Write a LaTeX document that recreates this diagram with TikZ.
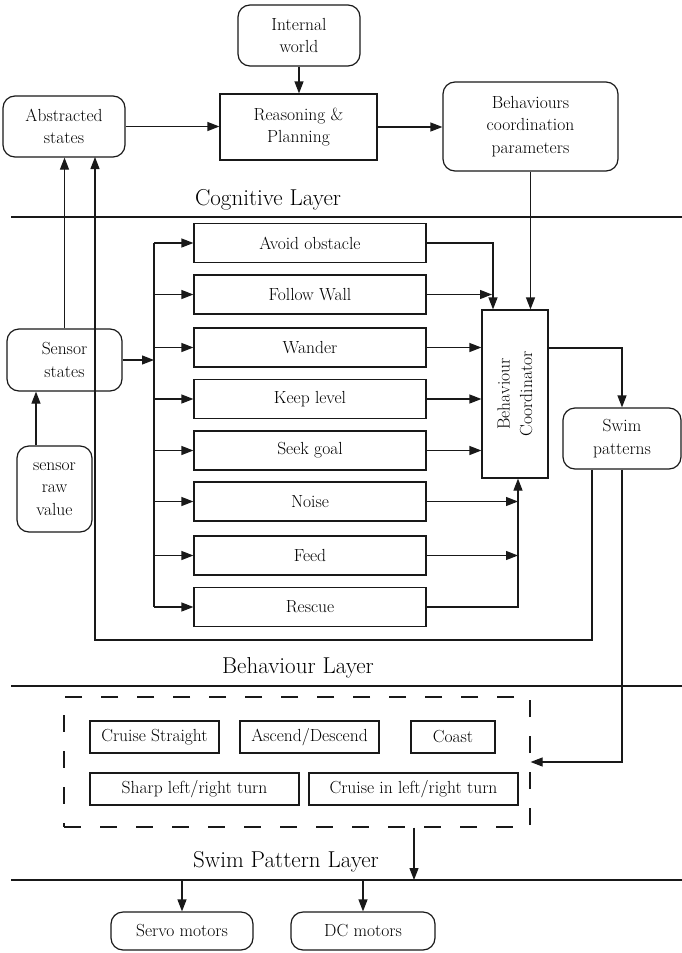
\documentclass[tikz,border=0pt]{standalone}
\usetikzlibrary{arrows.meta,calc}
\begin{document}
\begin{tikzpicture}[x=1pt,y=-1pt,
  line width=1.2pt, draw=black!90,
  every node/.style={text=black},
  arr/.style={-{Triangle[length=12pt,width=9pt]}},
  box/.style={draw, inner sep=0pt, align=center, font=\fontsize{17.5}{22.5}\selectfont},
  rbox/.style={box, rounded corners=12pt},
  sz/.style 2 args={minimum width=#1pt, minimum height=#2pt},
  layerlbl/.style={anchor=base, font=\fontsize{23}{27}\selectfont},
  dashbox/.style={draw, dash pattern=on 17pt off 19pt, inner sep=0pt},
  layerline/.style={line width=1.2pt}
]
\useasboundingbox (0,0) rectangle (682,953);

% Cognitive layer
\node[rbox, sz={122}{61}] (iw) at (299,35.5) {Internal\\world};
\node[box, sz={157}{66}] (rp) at (298.5,127) {Reasoning \&\\Planning};
\node[rbox, sz={122}{61}] (abs) at (64,126.5) {Abstracted\\states};
\node[rbox, sz={175}{89}] (bcp) at (530.5,126.5) {Behaviours\\coordination\\parameters};
\node[layerlbl] (lbl1) at (268,205) {Cognitive Layer};
\coordinate (l1a) at (11,217);
\coordinate (l1b) at (682,217);
\draw[layerline] (l1a) -- (l1b);

% Behaviour layer
\node[box, sz={232}{39}] (avoid) at (310,243) {Avoid obstacle};
\node[box, sz={232}{39}] (follow) at (310,294.5) {Follow Wall};
\node[box, sz={232}{39}] (wander) at (310,347.5) {Wander};
\node[box, sz={232}{39}] (keep) at (310,399) {Keep level};
\node[box, sz={232}{39}] (seek) at (310,450.5) {Seek goal};
\node[box, sz={232}{39}] (noise) at (310,501.5) {Noise};
\node[box, sz={232}{39}] (feed) at (310,555.5) {Feed};
\node[box, sz={232}{39}] (rescue) at (310,607) {Rescue};
\node[box, sz={66}{168}] (coord) at (515,394) {};
\node[rotate=90, align=center, font=\fontsize{17.5}{22.5}\selectfont] (coordtxt) at (coord.center) {Behaviour\\Coordinator};
\node[rbox, sz={118}{61}] (swim) at (622,438.5) {Swim\\patterns};
\node[rbox, sz={115}{62}] (ss) at (64.5,360) {Sensor\\states};
\node[rbox, sz={75}{86}] (raw) at (54.5,489) {sensor\\raw\\value};
\node[layerlbl] (lbl2) at (298,673) {Behaviour Layer};
\coordinate (l2a) at (11,686);
\coordinate (l2b) at (682,686);
\draw[layerline] (l2a) -- (l2b);

% Swim pattern layer
\node[dashbox, sz={466}{130}] (dash) at (297,762) {};
\node[box, sz={129}{32}] (cs) at (154.5,737) {Cruise Straight};
\node[box, sz={139}{32}] (ad) at (309.5,737) {Ascend/Descend};
\node[box, sz={84}{32}] (coast) at (453,737) {Coast};
\node[box, sz={209}{32}] (sharp) at (194.5,789) {Sharp left/right turn};
\node[box, sz={209}{32}] (cruisein) at (413.5,789) {Cruise in left/right turn};
\node[layerlbl] (lbl3) at (286,867) {Swim Pattern Layer};
\coordinate (l3a) at (11,880);
\coordinate (l3b) at (682,880);
\draw[layerline] (l3a) -- (l3b);

\node[rbox, sz={142}{38}] (servo) at (182,931) {Servo motors};
\node[rbox, sz={144}{38}] (dc) at (363,931) {DC motors};

% connectors: cognitive layer
\draw[arr] (iw.south) -- (iw.south |- rp.north);
\draw[arr] (abs.east) -- (abs.east -| rp.west);
\draw[arr] (rp.east) -- (rp.east -| bcp.west);
\draw[arr] (bcp.south) -- (bcp.south |- coord.north);

% sensors
\draw[arr] (ss.north) -- (ss.north |- abs.south);
\coordinate (rawx) at ([xshift=-18.5pt]raw.north);
\draw[arr] (rawx) -- (rawx |- ss.south);
\coordinate (fbtop) at (95,157);
\coordinate (fbbot) at (95,640);
\coordinate (swimL) at ([xshift=-30pt]swim.south);
\draw[arr] (swimL) |- (fbbot) -- (fbtop);

% bus
\coordinate (bustop) at (154,243);
\coordinate (busbot) at (154,607);
\draw (bustop) -- (busbot);
\draw[arr] (ss.east) -- (ss.east -| bustop);
\foreach \b in {avoid,follow,wander,keep,seek,noise,feed,rescue}
  \draw[arr] (\b.west -| bustop) -- (\b.west);

% into coordinator
\coordinate (cA) at ([xshift=-22pt]coord.north);
\coordinate (cB) at ([xshift=3pt]coord.south);
\draw[arr] (avoid.east) -| (cA);
\draw[arr] (follow.east) -- ([xshift=-1pt]follow.east -| cA);
\foreach \b in {wander,keep,seek}
  \draw[arr] (\b.east) -- (\b.east -| coord.west);
\foreach \b in {noise,feed}
  \draw[arr] (\b.east) -- (\b.east -| cB);
\draw[arr] (rescue.east) -| (cB);

% coordinator -> swim -> dashed box
\draw[arr] ([yshift=46pt]coord.east) -| (swim.north);
\draw[arr] (swim.south) |- (dash.east);

% dashed box -> motors
\coordinate (dA) at ([xshift=117pt]dash.south);
\draw[arr] (dA) -- (dA |- l3a);
\draw[arr] (servo.north |- l3a) -- (servo.north);
\draw[arr] (dc.north |- l3a) -- (dc.north);
\end{tikzpicture}
\end{document}
